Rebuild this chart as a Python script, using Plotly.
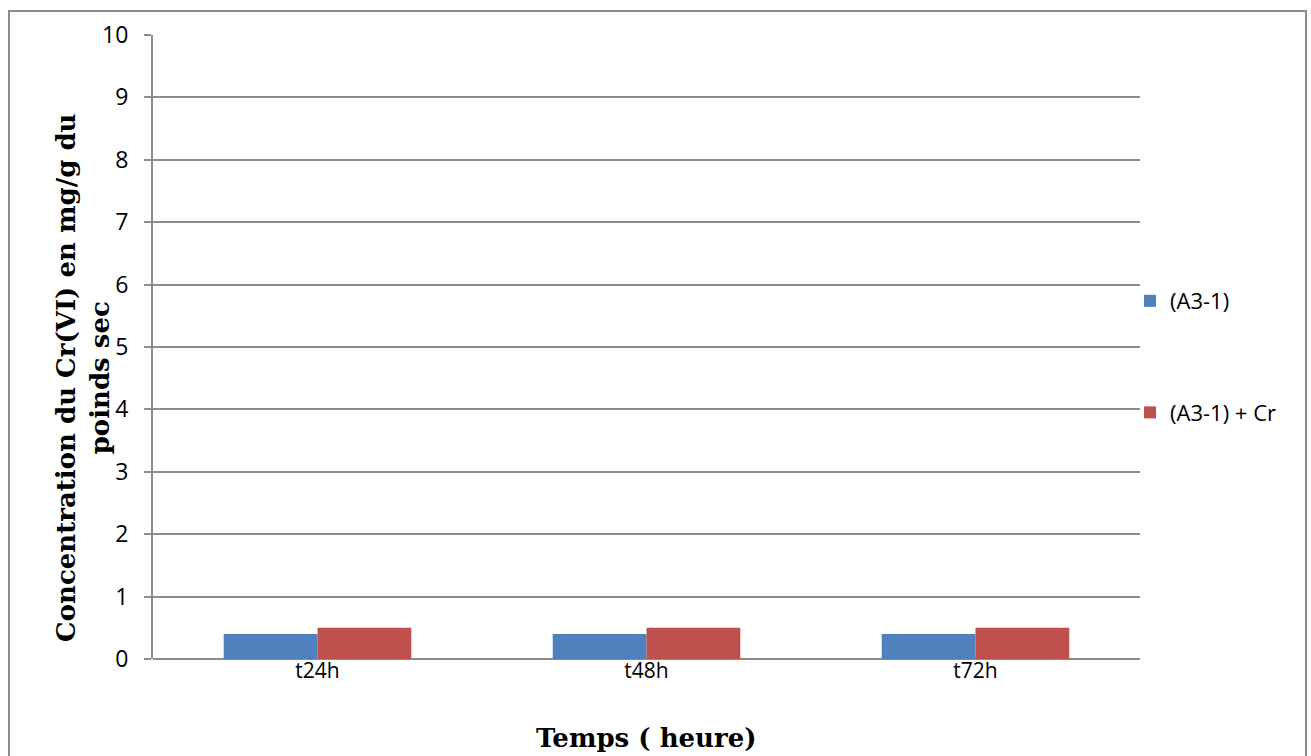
import plotly.graph_objects as go

categories = ["t24h", "t48h", "t72h"]
a31_values = [0.4, 0.4, 0.4]
a31_cr_values = [0.5, 0.5, 0.5]
series_names = ["(A3-1)", "(A3-1) + Cr"]
y_ticks = list(range(0, 11))

W, H = 1311, 756
L, R, T, B = 153, 171, 35, 97
pw, ph = W - L - R, H - T - B


def px_x(x):
    return (x - L) / pw


def px_y(y):
    return (H - B - y) / ph


fig = go.Figure()
fig.add_trace(go.Bar(x=categories, y=a31_values, name=series_names[0],
                     marker=dict(color="#4F81BD", line=dict(width=0)),
                     legendgroup="a"))
fig.add_trace(go.Bar(x=categories, y=a31_cr_values, name=series_names[1],
                     marker=dict(color="#C0504D", line=dict(width=0)),
                     legendgroup="b"))

fig.update_layout(
    width=W, height=H,
    margin=dict(l=L, r=R, t=T, b=B, pad=0),
    paper_bgcolor="white", plot_bgcolor="white",
    barmode="group", bargap=0.43, bargroupgap=0,
    font=dict(family="Open Sans, Liberation Sans, sans-serif", color="#000000", size=21),
    legend=dict(x=px_x(1130), y=px_y(280), xanchor="left", yanchor="top",
                font=dict(size=22), tracegroupgap=80, bgcolor="rgba(0,0,0,0)",
                itemwidth=30),
    # category axis drawn slightly above the baseline so its labels sit close to it
    xaxis=dict(showgrid=False, showline=False, ticks="", anchor="free",
               position=3 / ph, tickfont=dict(size=21), ticklabelstandoff=0),
    yaxis=dict(range=[0, 10], tickvals=y_ticks, showgrid=True, gridcolor="#8C8C8C",
               gridwidth=2, zeroline=True, zerolinecolor="#8C8C8C", zerolinewidth=2,
               showline=True, linecolor="#8C8C8C",
               linewidth=2, ticks="outside", ticklen=7, tickcolor="#8C8C8C",
               tickwidth=2, tickfont=dict(size=23), ticklabelstandoff=11),
    showlegend=True,
)

# y-axis title, two lines, rotated
fig.add_annotation(
    x=px_x(83), y=px_y(378), xref="paper", yref="paper",
    text="<b>Concentration du Cr(VI) en mg/g du<br>poinds sec</b>",
    textangle=-90, showarrow=False, xanchor="center", yanchor="middle",
    font=dict(family="DejaVu Serif, Liberation Serif, serif", size=26, color="#000000"),
)
# x-axis title
fig.add_annotation(
    x=px_x(646), y=px_y(738), xref="paper", yref="paper",
    text="<b>Temps ( heure)</b>", showarrow=False, xanchor="center", yanchor="middle",
    font=dict(family="DejaVu Serif, Liberation Serif, serif", size=26, color="#000000"),
)

# chart border
fig.add_shape(type="rect", xref="paper", yref="paper",
              x0=px_x(9), x1=px_x(1306), y0=px_y(800), y1=px_y(11),
              line=dict(color="#8C8C8C", width=2), fillcolor="rgba(0,0,0,0)", layer="below")

fig.write_html("out.html")
